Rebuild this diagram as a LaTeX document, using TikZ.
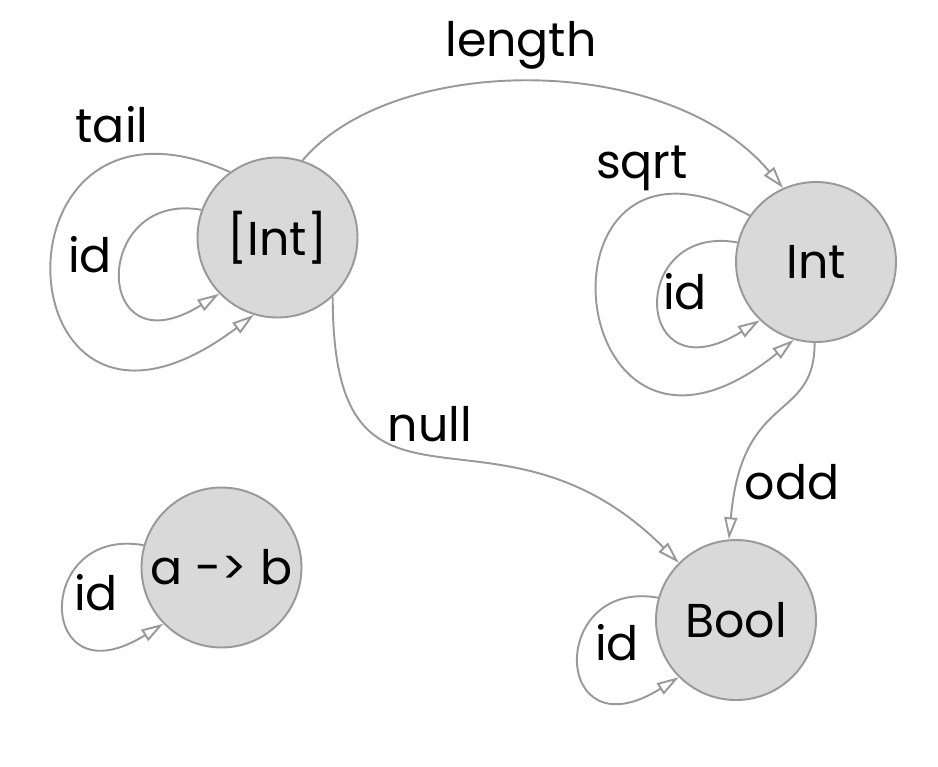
\documentclass[tikz,border=0pt]{standalone}
\usepackage{fontspec}
\setmainfont{Poppins}
\definecolor{nodegray}{RGB}{217, 217, 217}
\definecolor{linegray}{RGB}{153, 153, 153}
\usetikzlibrary{arrows.meta}

\begin{document}
\begin{tikzpicture}[
  tnode/.style={circle, draw=linegray, fill=nodegray, line width=1.1pt, minimum size=3.2cm, inner sep=0pt, font=\fontsize{27}{32}\selectfont},
  tlabel/.style={font=\fontsize{27}{32}\selectfont, inner sep=0pt},
  edge/.style={draw=linegray, line width=1.1pt, -{Triangle[open, length=0.44cm, width=0.26cm]}},
  idloop/.style={out=170, in=212, out distance=2.25cm, in distance=3cm}
]
  \useasboundingbox (0, 0) rectangle (18.76, -15.32);

  % types
  \node[tnode] (list) at (5.55, -4.75) {[Int]};
  \node[tnode] (int) at (16.32, -5.24) {Int};
  \node[tnode] (bool) at (14.72, -12.4) {Bool};
  \node[tnode] (fun) at (4.43, -11.35) {a -> b};

  % functions between them
  \draw[edge] (list.72) to[out=50, in=130, out distance=2.8cm, in distance=3.6cm] (int.114);
  \draw[edge] (list.-47) to[out=-90, in=135, out distance=5.2cm, in distance=5.2cm] (bool.135);
  \draw[edge] (int.269) to[out=-90, in=85, out distance=1.6cm, in distance=3cm] (bool.95);

  % loops
  \draw[edge] (list.126) to[out=156, in=217, out distance=5.49cm, in distance=6.36cm] (list.253);
  \draw[edge] (list.160) to[idloop] (list.224);
  \draw[edge] (int.145) to[out=152, in=219, out distance=5.19cm, in distance=5.98cm] (int.254);
  \draw[edge] (int.166) to[idloop] (int.226);
  \draw[edge] (bool.164) to[idloop] (bool.225);
  \draw[edge] (fun.164) to[idloop] (fun.224);

  % labels
  \node[tlabel] (lenlbl) at (10.42, -0.9) {length};
  \node[tlabel] (taillbl) at (2.24, -2.5) {tail};
  \node[tlabel] (idlist) at (1.8, -5.1) {id};
  \node[tlabel] (sqrtlbl) at (12.84, -3.36) {sqrt};
  \node[tlabel] (idint) at (13.7, -5.84) {id};
  \node[tlabel] (nulllbl) at (8.6, -8.48) {null};
  \node[tlabel] (oddlbl) at (15.84, -9.64) {odd};
  \node[tlabel] (idbool) at (12.34, -12.86) {id};
  \node[tlabel] (idfun) at (1.92, -11.86) {id};
\end{tikzpicture}
\end{document}
